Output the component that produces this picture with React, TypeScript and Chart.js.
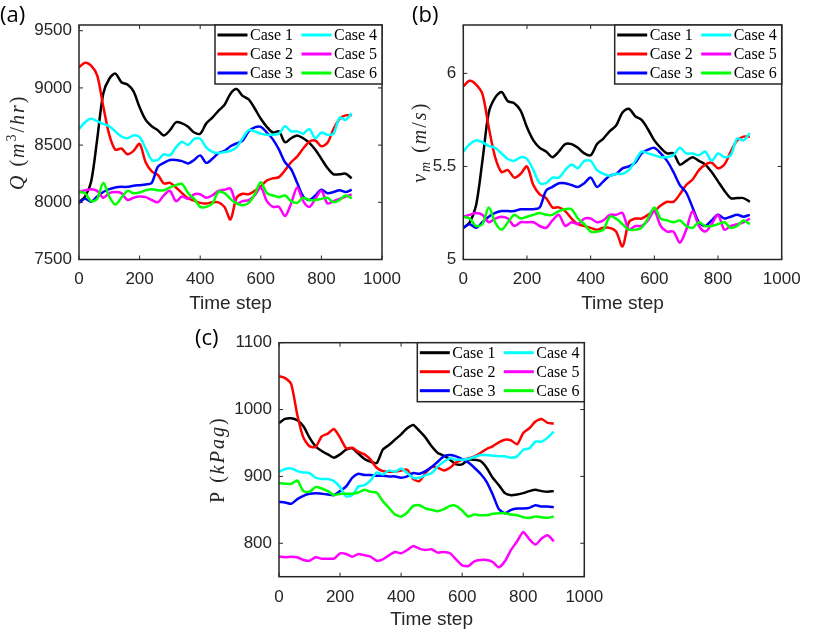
import React, { useEffect, useRef } from "react";
import { Chart, registerables } from "chart.js";

Chart.register(...registerables);

// ---- data (every 20 time steps) ----
const TIME_STEP = [
  0, 20, 40, 60, 80, 100, 120, 140, 160, 180, 200, 220, 240, 260, 280, 300, 320, 340, 360, 380, 400, 420, 440,
  460, 480, 500, 520, 540, 560, 580, 600, 620, 640, 660, 680, 700, 720, 740, 760, 780, 800, 820, 840, 860, 880, 900,
];

const CASE_LABELS = ["Case 1", "Case 2", "Case 3", "Case 4", "Case 5", "Case 6"];
const CASE_COLORS = ["#000000", "#ff0000", "#0000ff", "#00ffff", "#ff00ff", "#00ff00"];

const X_TICKS = [0, 200, 400, 600, 800, 1000];
const Q_TICKS = [7500, 8000, 8500, 9000, 9500];
const V_TICKS = [5, 5.5, 6];
const P_TICKS = [800, 900, 1000, 1100];

// (a) flow rate Q, m3/hr
const Q_CASE1 = [8000, 8050, 8180, 8550, 8950, 9080, 9125, 9050, 9030, 8970, 8830, 8720, 8665, 8630, 8585, 8630, 8700, 8690, 8660, 8610, 8600, 8690, 8740, 8800, 8850, 8950, 8990, 8930, 8900, 8820, 8730, 8660, 8610, 8620, 8525, 8560, 8585, 8560, 8520, 8460, 8380, 8300, 8245, 8245, 8250, 8210];
const Q_CASE2 = [9180, 9220, 9195, 9110, 8840, 8590, 8460, 8470, 8420, 8450, 8510, 8350, 8270, 8240, 8165, 8170, 8130, 8080, 8035, 8015, 7995, 7990, 8000, 8000, 7960, 7850, 8040, 8075, 8070, 8100, 8140, 8190, 8210, 8220, 8280, 8350, 8400, 8470, 8530, 8540, 8490, 8520, 8640, 8730, 8760, 8760];
const Q_CASE3 = [7995, 8030, 8005, 8050, 8090, 8115, 8130, 8135, 8135, 8145, 8150, 8155, 8170, 8310, 8345, 8370, 8370, 8360, 8340, 8370, 8410, 8345, 8380, 8430, 8450, 8490, 8515, 8540, 8620, 8655, 8660, 8610, 8550, 8460, 8350, 8290, 8170, 8050, 8020, 8060, 8110, 8080, 8090, 8105, 8090, 8110];
const Q_CASE4 = [8640, 8700, 8730, 8710, 8685, 8665, 8620, 8575, 8560, 8585, 8570, 8470, 8370, 8370, 8420, 8410, 8480, 8530, 8500, 8555, 8555, 8480, 8440, 8430, 8440, 8450, 8480, 8560, 8630, 8620, 8600, 8590, 8590, 8600, 8665, 8620, 8620, 8600, 8640, 8560, 8610, 8590, 8600, 8740, 8720, 8780];
const Q_CASE5 = [8090, 8105, 8115, 8100, 8040, 8080, 8090, 8080, 8020, 8040, 8050, 8045, 8020, 8000, 8060, 8100, 8010, 8050, 8030, 8070, 8070, 8040, 8060, 8100, 8110, 8120, 7990, 8010, 8020, 8060, 8130, 8010, 7960, 7960, 7880, 7990, 8130, 8010, 7960, 8030, 8100, 7990, 8010, 8030, 8050, 8070];
const Q_CASE6 = [8090, 8080, 8010, 8030, 8170, 8050, 7980, 8040, 8100, 8080, 8085, 8105, 8115, 8105, 8105, 8130, 8150, 8160, 8080, 8030, 7960, 7960, 7990, 8090, 8080, 8030, 7990, 7975, 7995, 8070, 8175, 8080, 8060, 8045, 8060, 8010, 7995, 8040, 8020, 8020, 8030, 8040, 8000, 8020, 8060, 8035];

// (b) mixture velocity, m/s
const V_CASE1 = [5.17, 5.2, 5.29, 5.53, 5.79, 5.87, 5.9, 5.85, 5.84, 5.8, 5.71, 5.64, 5.6, 5.58, 5.55, 5.58, 5.62, 5.62, 5.6, 5.57, 5.56, 5.62, 5.65, 5.69, 5.72, 5.79, 5.81, 5.77, 5.75, 5.7, 5.64, 5.6, 5.57, 5.57, 5.51, 5.53, 5.55, 5.53, 5.51, 5.47, 5.42, 5.37, 5.33, 5.33, 5.33, 5.31];
const V_CASE2 = [5.93, 5.96, 5.94, 5.89, 5.71, 5.55, 5.47, 5.48, 5.44, 5.46, 5.5, 5.4, 5.35, 5.33, 5.28, 5.28, 5.26, 5.22, 5.19, 5.18, 5.17, 5.16, 5.17, 5.17, 5.15, 5.07, 5.2, 5.22, 5.22, 5.24, 5.26, 5.29, 5.31, 5.31, 5.35, 5.4, 5.43, 5.48, 5.51, 5.52, 5.49, 5.51, 5.58, 5.64, 5.66, 5.66];
const V_CASE3 = [5.17, 5.19, 5.17, 5.2, 5.23, 5.25, 5.26, 5.26, 5.26, 5.27, 5.27, 5.27, 5.28, 5.37, 5.39, 5.41, 5.41, 5.4, 5.39, 5.41, 5.44, 5.39, 5.42, 5.45, 5.46, 5.49, 5.5, 5.52, 5.57, 5.59, 5.6, 5.57, 5.53, 5.47, 5.4, 5.36, 5.28, 5.2, 5.18, 5.21, 5.24, 5.22, 5.23, 5.24, 5.23, 5.24];
const V_CASE4 = [5.58, 5.62, 5.64, 5.63, 5.61, 5.6, 5.57, 5.54, 5.53, 5.55, 5.54, 5.48, 5.41, 5.41, 5.44, 5.44, 5.48, 5.51, 5.49, 5.53, 5.53, 5.48, 5.46, 5.45, 5.46, 5.46, 5.48, 5.53, 5.58, 5.57, 5.56, 5.55, 5.55, 5.56, 5.6, 5.57, 5.57, 5.56, 5.58, 5.53, 5.57, 5.55, 5.56, 5.65, 5.64, 5.68];
const V_CASE5 = [5.23, 5.24, 5.25, 5.24, 5.2, 5.22, 5.23, 5.22, 5.18, 5.2, 5.2, 5.2, 5.18, 5.17, 5.21, 5.24, 5.18, 5.2, 5.19, 5.22, 5.22, 5.2, 5.21, 5.24, 5.24, 5.25, 5.16, 5.18, 5.18, 5.21, 5.26, 5.18, 5.15, 5.15, 5.09, 5.16, 5.26, 5.18, 5.15, 5.19, 5.24, 5.16, 5.18, 5.19, 5.2, 5.22];
const V_CASE6 = [5.23, 5.22, 5.18, 5.19, 5.28, 5.2, 5.16, 5.2, 5.24, 5.22, 5.23, 5.24, 5.25, 5.24, 5.24, 5.26, 5.27, 5.27, 5.22, 5.19, 5.15, 5.15, 5.16, 5.23, 5.22, 5.19, 5.16, 5.16, 5.17, 5.22, 5.28, 5.22, 5.21, 5.2, 5.21, 5.18, 5.17, 5.2, 5.18, 5.18, 5.19, 5.2, 5.17, 5.18, 5.21, 5.19];

// (c) pressure, kPag
const P_CASE1 = [980, 986, 987, 984, 975, 958, 945, 938, 933, 928, 933, 940, 942, 934, 926, 922, 920, 940, 947, 955, 963, 972, 977, 968, 958, 945, 935, 931, 925, 918, 918, 925, 925, 923, 913, 898, 887, 875, 872, 873, 875, 878, 880, 878, 877, 878];
const P_CASE2 = [1050, 1047, 1038, 992, 958, 945, 944, 960, 964, 971, 958, 942, 943, 937, 933, 925, 913, 908, 907, 907, 909, 910, 896, 893, 905, 914, 913, 909, 913, 921, 925, 927, 930, 935, 941, 945, 951, 955, 954, 948, 965, 972, 982, 986, 980, 979];
const P_CASE3 = [862, 861, 859, 866, 871, 874, 875, 874, 873, 872, 878, 885, 898, 904, 902, 902, 901, 901, 900, 900, 898, 900, 905, 904, 908, 914, 922, 930, 932, 930, 926, 921, 913, 904, 892, 873, 851, 845, 850, 852, 852, 853, 857, 855, 855, 854];
const P_CASE4 = [907, 911, 912, 908, 906, 905, 898, 896, 896, 893, 884, 870, 872, 885, 887, 894, 906, 903, 909, 907, 912, 905, 898, 898, 902, 905, 915, 922, 927, 925, 925, 926, 929, 932, 932, 931, 930, 930, 928, 930, 940, 942, 952, 952, 958, 967];
const P_CASE5 = [780, 779, 780, 779, 775, 774, 779, 777, 777, 777, 785, 784, 780, 784, 782, 780, 774, 776, 782, 787, 785, 790, 796, 792, 790, 791, 786, 787, 785, 776, 767, 766, 773, 775, 775, 772, 764, 773, 790, 803, 817, 806, 798, 807, 812, 803];
const P_CASE6 = [890, 889, 889, 894, 878, 877, 884, 882, 878, 872, 874, 874, 874, 876, 880, 877, 876, 863, 853, 843, 840, 846, 856, 857, 852, 850, 848, 851, 856, 856, 849, 840, 843, 842, 842, 844, 845, 845, 843, 842, 839, 838, 840, 839, 838, 840];

// ---- styling ----
const AXIS = "#262626";
const SANS = '"Liberation Sans", Arial, sans-serif';
const SERIF = '"Liberation Serif", "DejaVu Serif", serif';

type Seg = { text: string; italic?: boolean; sup?: boolean; sub?: boolean };

// box, inward ticks on all sides, legend and the LaTeX-ish y label
function matlabFrame(title: Seg[], titleX: number) {
  return {
    id: "matlabFrame",
    afterDatasetsDraw(chart: any) {
      const { ctx, chartArea: a } = chart;
      const xs = chart.scales.x;
      const ys = chart.scales.y;
      ctx.save();

      ctx.strokeStyle = AXIS;
      ctx.lineWidth = 1;
      ctx.beginPath();
      for (const t of xs.ticks) {
        const px = xs.getPixelForValue(t.value);
        ctx.moveTo(px, a.bottom);
        ctx.lineTo(px, a.bottom - 4);
        ctx.moveTo(px, a.top);
        ctx.lineTo(px, a.top + 4);
      }
      for (const t of ys.ticks) {
        const py = ys.getPixelForValue(t.value);
        ctx.moveTo(a.left, py);
        ctx.lineTo(a.left + 4, py);
        ctx.moveTo(a.right, py);
        ctx.lineTo(a.right - 4, py);
      }
      ctx.stroke();
      ctx.lineWidth = 1.5;
      ctx.strokeRect(a.left, a.top, a.right - a.left, a.bottom - a.top);

      // legend: two columns, 1-3 left, 4-6 right
      const w = 167;
      const h = 59;
      const lx = a.right - w;
      const ly = a.top;
      ctx.fillStyle = "#ffffff";
      ctx.fillRect(lx, ly, w, h);
      ctx.strokeRect(lx, ly, w, h);
      ctx.font = `16px ${SERIF}`;
      ctx.textBaseline = "middle";
      ctx.textAlign = "left";
      CASE_LABELS.forEach((label, i) => {
        const col = Math.floor(i / 3);
        const row = i % 3;
        const x0 = lx + 2.5 + col * 84;
        const y0 = ly + 10 + row * 19;
        ctx.strokeStyle = CASE_COLORS[i];
        ctx.lineWidth = 3;
        ctx.beginPath();
        ctx.moveTo(x0, y0);
        ctx.lineTo(x0 + 30, y0);
        ctx.stroke();
        ctx.fillStyle = "#000000";
        ctx.fillText(label, x0 + 32.5, y0 + 1);
      });

      // rotated y label
      const big = 20;
      const small = 14;
      const gap = 2;
      const fontFor = (s: Seg) => `${s.italic ? "italic " : ""}${s.sup || s.sub ? small : big}px ${SERIF}`;
      let total = 0;
      for (const s of title) {
        ctx.font = fontFor(s);
        for (const ch of s.text) total += ctx.measureText(ch).width + gap;
      }
      ctx.translate(titleX, (a.top + a.bottom) / 2);
      ctx.rotate(-Math.PI / 2);
      ctx.fillStyle = AXIS;
      ctx.textBaseline = "alphabetic";
      let x = -total / 2;
      for (const s of title) {
        ctx.font = fontFor(s);
        const dy = s.sup ? -8 : s.sub ? 4 : 0;
        for (const ch of s.text) {
          ctx.fillText(ch, x, dy);
          x += ctx.measureText(ch).width + gap;
        }
      }
      ctx.restore();
    },
  };
}

type PanelProps = {
  left: number;
  top: number;
  width: number;
  height: number;
  series: number[][];
  yMin: number;
  yMax: number;
  yTicks: number[];
  yAxisWidth: number;
  xAxisHeight: number;
  padTop: number;
  padRight: number;
  title: Seg[];
  titleX: number;
  timePad: number;
  tension: number;
};

function Panel(p: PanelProps) {
  const canvasRef = useRef<HTMLCanvasElement>(null);

  useEffect(() => {
    if (!canvasRef.current) return;
    const chart = new Chart(canvasRef.current, {
      type: "line",
      data: {
        datasets: p.series.map((vals, i) => ({
          label: CASE_LABELS[i],
          data: TIME_STEP.map((t, k) => ({ x: t, y: vals[k] })),
          borderColor: CASE_COLORS[i],
          backgroundColor: CASE_COLORS[i],
          borderWidth: 2.5,
          pointRadius: 0,
          tension: p.tension,
          order: 6 - i,
        })),
      },
      options: {
        animation: false,
        responsive: false,
        events: [],
        layout: { padding: { top: p.padTop, right: p.padRight, left: 0, bottom: 0 } },
        plugins: { legend: { display: false }, tooltip: { enabled: false } },
        scales: {
          x: {
            type: "linear",
            min: 0,
            max: 1000,
            afterBuildTicks: (s: any) => {
              s.ticks = X_TICKS.map((v) => ({ value: v }));
            },
            afterFit: (s: any) => {
              s.height = p.xAxisHeight;
              s.paddingLeft = 0;
              s.paddingRight = 0;
            },
            grid: { display: false, drawTicks: false },
            border: { display: false },
            ticks: {
              color: AXIS,
              font: { family: SANS, size: 17 },
              padding: 10,
              maxRotation: 0,
              autoSkip: false,
              callback: (v: any) => String(v),
            },
            title: {
              display: true,
              text: "Time step",
              color: AXIS,
              font: { family: SANS, size: 19 },
              padding: { top: 0, bottom: p.timePad },
            },
          },
          y: {
            type: "linear",
            min: p.yMin,
            max: p.yMax,
            afterBuildTicks: (s: any) => {
              s.ticks = p.yTicks.map((v) => ({ value: v }));
            },
            afterFit: (s: any) => {
              s.width = p.yAxisWidth;
              s.paddingTop = 0;
              s.paddingBottom = 0;
            },
            grid: { display: false, drawTicks: false },
            border: { display: false },
            ticks: {
              color: AXIS,
              font: { family: SANS, size: 17 },
              padding: 7,
              autoSkip: false,
              callback: (v: any) => String(v),
            },
          },
        },
      } as any,
      plugins: [matlabFrame(p.title, p.titleX)],
    });
    return () => chart.destroy();
  }, []);

  return (
    <canvas
      ref={canvasRef}
      width={p.width}
      height={p.height}
      style={{ position: "absolute", left: p.left, top: p.top, width: p.width, height: p.height }}
    />
  );
}

const panelLabel: React.CSSProperties = {
  position: "absolute",
  fontFamily: '"Open Sans", sans-serif',
  fontSize: 22,
  lineHeight: 1,
  color: "#000",
};

export default function App() {
  return (
    <div style={{ position: "absolute", left: 0, top: 0, width: 822, height: 632, background: "#fff", overflow: "hidden" }}>
      <Panel
        left={0}
        top={0}
        width={410}
        height={320}
        series={[Q_CASE1, Q_CASE2, Q_CASE3, Q_CASE4, Q_CASE5, Q_CASE6]}
        yMin={7500}
        yMax={9550}
        yTicks={Q_TICKS}
        yAxisWidth={79}
        xAxisHeight={60.5}
        padTop={25}
        padRight={28}
        title={[
          { text: "Q", italic: true },
          { text: " (" },
          { text: "m", italic: true },
          { text: "3", sup: true },
          { text: "/" },
          { text: "hr", italic: true },
          { text: ")" },
        ]}
        titleX={24}
        timePad={5}
        tension={0.3}
      />
      <Panel
        left={410}
        top={0}
        width={412}
        height={320}
        series={[V_CASE1, V_CASE2, V_CASE3, V_CASE4, V_CASE5, V_CASE6]}
        yMin={5}
        yMax={6.26}
        yTicks={V_TICKS}
        yAxisWidth={53.3}
        xAxisHeight={60.5}
        padTop={25}
        padRight={40.3}
        title={[
          { text: "v", italic: true },
          { text: "m", italic: true, sub: true },
          { text: " (" },
          { text: "m", italic: true },
          { text: "/" },
          { text: "s", italic: true },
          { text: ")" },
        ]}
        titleX={15.5}
        timePad={5}
        tension={0.3}
      />
      <Panel
        left={190}
        top={320}
        width={420}
        height={312}
        series={[P_CASE1, P_CASE2, P_CASE3, P_CASE4, P_CASE5, P_CASE6]}
        yMin={750}
        yMax={1100}
        yTicks={P_TICKS}
        yAxisWidth={89}
        xAxisHeight={55.3}
        padTop={22.7}
        padRight={25.7}
        title={[{ text: "P" }, { text: " (" }, { text: "kPag", italic: true }, { text: ")" }]}
        titleX={33.5}
        timePad={1}
        tension={0.2}
      />
      <div style={{ ...panelLabel, left: 0, top: 2 }}>(a)</div>
      <div style={{ ...panelLabel, left: 412, top: 2 }}>(b)</div>
      <div style={{ ...panelLabel, left: 195, top: 325 }}>(c)</div>
    </div>
  );
}
